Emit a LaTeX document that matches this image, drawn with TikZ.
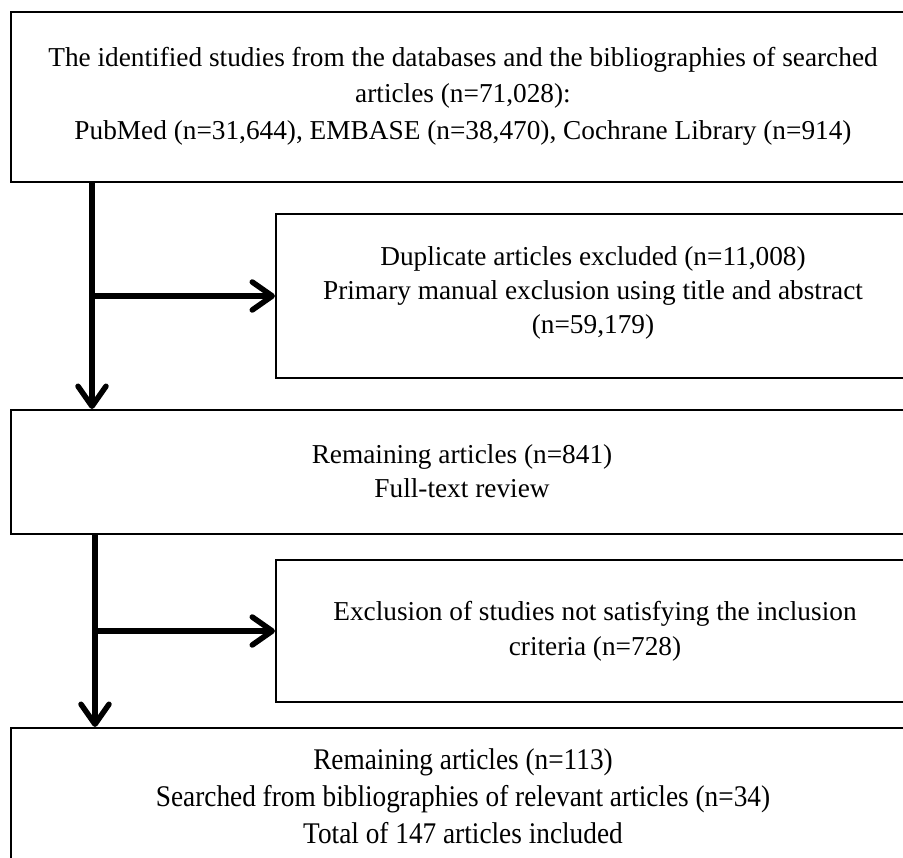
\documentclass[tikz,border=0pt]{standalone}
\usepackage{fontspec}
\setmainfont{Liberation Serif}
\newfontfamily\condfont[FakeStretch=0.91]{Liberation Serif}
\usetikzlibrary{arrows.meta}
\begin{document}
\begin{tikzpicture}[x=1pt,y=-1pt,
    box/.style={draw,line width=2pt,anchor=north west,inner sep=0pt},
    txt/.style={align=center,inner sep=0pt},
    arr/.style={line width=5.5pt,-{Straight Barb[length=20pt,width=28pt,round]}}]
    \fill[white] (0,0) rectangle (903,858);
    \useasboundingbox (0,0) rectangle (903,858);

 \node[box,minimum width=905pt,minimum height=170pt] (ident) at (10,11) {};
 \node[box,minimum width=640pt,minimum height=164pt] (dup) at (275,213) {};
 \node[box,minimum width=905pt,minimum height=124pt] (full) at (10,409) {};
 \node[box,minimum width=640pt,minimum height=142pt] (excl) at (275,559) {};
 \node[box,minimum width=905pt,minimum height=150pt] (incl) at (10,727) {};

 \node[txt,font=\fontsize{27.3}{36.5}\selectfont] (identtxt) at (463,96)
   {The identified studies from the databases and the bibliographies of searched\\
    articles (n=71,028):\\
    PubMed (n=31,644), EMBASE (n=38,470), Cochrane Library (n=914)};
 \node[txt,font=\fontsize{27.3}{34}\selectfont] (duptxt) at (593,293)
   {Duplicate articles excluded (n=11,008)\\
    Primary manual exclusion using title and abstract\\
    (n=59,179)};
 \node[txt,font=\fontsize{27.3}{34}\selectfont] (fulltxt) at (462,471)
   {Remaining articles (n=841)\\ Full-text review};
 \node[txt,font=\fontsize{27.3}{35}\selectfont] (excltxt) at (595,631)
   {Exclusion of studies not satisfying the inclusion\\ criteria (n=728)};
 \node[txt,font=\condfont\fontsize{30}{37}\selectfont] (incltxt) at (463,796)
   {Remaining articles (n=113)\\
    Searched from bibliographies of relevant articles (n=34)\\
    Total of 147 articles included};

 \coordinate (trunkA) at (92,0);
 \coordinate (trunkB) at (95,0);
 \draw[arr] (trunkA |- ident.south) -- (trunkA |- full.north);
 \draw[arr] (trunkA |- dup.west) -- (dup.west);
 \draw[arr] (trunkB |- full.south) -- (trunkB |- incl.north);
 \draw[arr] (trunkB |- excl.west) -- (excl.west);
    \end{tikzpicture}
\end{document}
